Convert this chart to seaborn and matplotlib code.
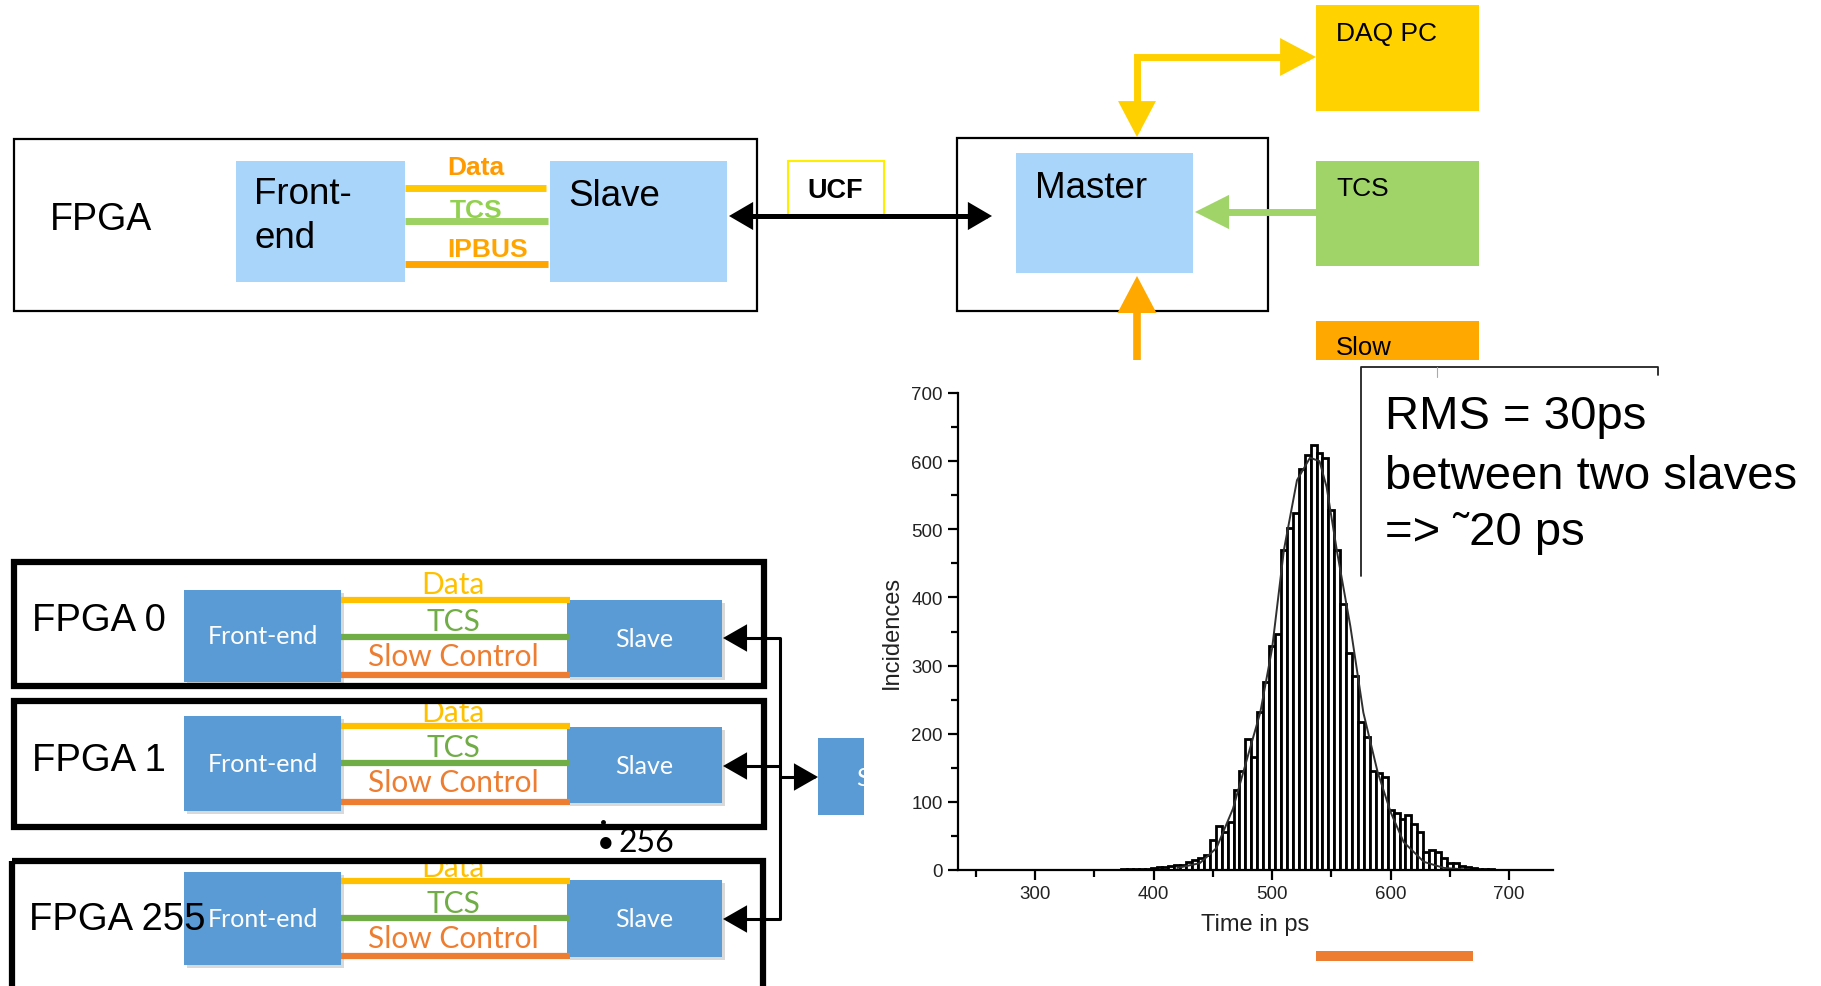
import numpy as np
import pandas as pd
import matplotlib
matplotlib.use('Agg')
import matplotlib.pyplot as plt
import seaborn as sns
from matplotlib.patches import Rectangle, FancyArrowPatch
from matplotlib.path import Path
from matplotlib.ticker import MultipleLocator
from matplotlib import font_manager

# histogram of time differences (5 ps bins)
time_ps = [375, 380, 385, 390, 395, 400, 405, 410, 415, 420, 425, 430, 435, 440, 445,
           450, 455, 460, 465, 470, 475, 480, 485, 490, 495, 500, 505, 510, 515, 520,
           525, 530, 535, 540, 545, 550, 555, 560, 565, 570, 575, 580, 585, 590, 595,
           600, 605, 610, 615, 620, 625, 630, 635, 640, 645, 650, 655, 660, 665, 670,
           675, 680, 685]
incidences = [2, 1, 2, 2, 2, 3, 4, 5, 6, 7, 8, 12, 14, 18, 22,
              44, 65, 56, 71, 117, 146, 192, 166, 232, 276, 329, 346, 469, 502, 524,
              589, 609, 623, 612, 605, 529, 469, 390, 319, 284, 217, 195, 146, 142, 136,
              88, 83, 75, 80, 68, 56, 27, 29, 27, 18, 11, 11, 6, 4, 3,
              2, 2, 2]
# fitted curve, points
fit_time = [420, 439, 453, 467, 480, 490, 500, 510, 521, 532, 540, 546, 555, 566,
            577, 589, 600, 611, 628, 645, 670]
fit_counts = [3, 10, 32, 90, 170, 231, 325, 470, 572, 605, 600, 562, 465, 358,
              231, 144, 85, 41, 12, 3, 0]

y_ticks = [0, 100, 200, 300, 400, 500, 600, 700]
x_ticks = [300, 400, 500, 600, 700]

fpga_names = ["FPGA 0", "FPGA 1", "FPGA 255"]

sns.set_style('ticks')
plt.rcParams['font.family'] = ['Liberation Sans', 'DejaVu Sans']
plt.rcParams['text.color'] = 'black'
plt.rcParams['axes.labelcolor'] = '#222222'

names = {f.name for f in font_manager.fontManager.ttflist}
narrow = 'Liberation Sans Narrow' in names
fpga_font = ['Liberation Sans Narrow', 'Liberation Sans'] if narrow else ['Liberation Sans']
fpga_size = 32 if narrow else 27.5
calibri = ['Lato', 'DejaVu Sans']

fig = plt.figure(figsize=(18.21, 9.87), dpi=100)
bg = fig.add_axes([0, 0, 1, 1])
bg.set_xlim(0, 1821)
bg.set_ylim(987, 0)
bg.axis('off')


def box(x0, y0, x1, y1, fc='none', ec='none', lw=0, z=2):
    r = Rectangle((x0, y0), x1 - x0, y1 - y0, facecolor=fc, edgecolor=ec,
                  linewidth=lw, zorder=z)
    bg.add_patch(r)
    return r


def arrow(pts, color, lw, hl, hw, style='-|>', z=4):
    a = FancyArrowPatch(path=Path(pts), arrowstyle=f'{style},head_length={hl},head_width={hw}',
                        mutation_scale=1, color=color, linewidth=lw, zorder=z,
                        joinstyle='miter', capstyle='butt')
    bg.add_patch(a)


def hline(x0, x1, y, color, lw=4.5, z=3):
    bg.plot([x0, x1], [y, y], color=color, lw=lw, solid_capstyle='butt', zorder=z)


# ---- top left: FPGA with front-end and slave
box(14, 140, 757, 312, ec='black', lw=1.6)
bg.text(50, 220, "FPGA", fontsize=27, va='center', ha='left')
top_blue = '#a9d5fb'
box(236, 162, 405, 283, fc=top_blue)
box(550, 162, 727, 283, fc=top_blue)
bg.text(254, 195, "Front-", fontsize=26.5, va='center')
bg.text(254, 238, "end", fontsize=26.5, va='center')
bg.text(568, 196, "Slave", fontsize=26.5, va='center')
hline(405, 546, 189, '#ffc800', lw=5)
hline(405, 548, 222, '#9dd161', lw=5)
hline(405, 548, 265, '#ffa500', lw=5)
bg.text(476, 168, "Data", color='#ff9a00', fontsize=19, weight='bold', ha='center', va='center', zorder=5)
bg.text(476, 211, "TCS", color='#92d050', fontsize=19, weight='bold', ha='center', va='center', zorder=5)
bg.text(488, 250, "IPBUS", color='#ffa500', fontsize=19, weight='bold', ha='center', va='center', zorder=5)

# UCF link
box(788, 162, 884, 216, ec='#ffee00', lw=1.5, z=3)
bg.text(835, 191, "UCF", fontsize=19.5, weight='bold', ha='center', va='center')
arrow([(729, 217), (992, 217)], 'black', 3.6, 12, 7, style='<|-|>')

# ---- top right: master, DAQ PC, TCS, slow control
box(957, 139, 1268, 312, ec='black', lw=1.6)
box(1016, 154, 1193, 274, fc=top_blue)
bg.text(1035, 188, "Master", fontsize=26.5, va='center')
box(1316, 6, 1479, 112, fc='#ffd200')
bg.text(1336, 34, "DAQ PC", fontsize=19, va='center')
box(1316, 162, 1479, 267, fc='#a0d468')
bg.text(1336, 189, "TCS", fontsize=19, va='center')
box(1316, 322, 1479, 361, fc='#ffa900')
bg.text(1336, 348, "Slow", fontsize=18.5, va='center')
arrow([(1316, 58), (1137, 58), (1137, 138)], '#ffd000', 5, 18, 9.5, style='<|-|>')
arrow([(1316, 213), (1195, 213)], '#a0d468', 5, 16.5, 8.3)
arrow([(1137, 361), (1137, 277)], '#ffa800', 5.5, 18, 9.5)

# ---- bottom left: 256 FPGAs
dark_blue = '#5b9bd5'
fpga_boxes = [(14, 563, 764, 687), (14, 702, 764, 828), (12, 862, 763, 1000)]
fe_boxes = [(184, 591, 341, 683), (184, 717, 341, 812), (184, 873, 341, 966)]
sl_boxes = [(567, 601, 722, 678), (567, 728, 722, 804), (567, 881, 722, 958)]
line_y = [(601, 638, 676), (727, 764, 803), (882, 919, 957)]
label_y = [(585, 622, 657), (713, 748, 783), (868, 904, 939)]
name_pos = [(32, 621), (32, 761), (29, 920)]
for i in range(3):
    x0, y0, x1, y1 = fpga_boxes[i]
    clip = box(x0, y0, x1, y1, ec='black', lw=4.5, z=6)
    box(fe_boxes[i][0] + 3, fe_boxes[i][1] + 3, fe_boxes[i][2] + 3, fe_boxes[i][3] + 3, fc='#d9d9d9', z=1)
    box(*fe_boxes[i], fc=dark_blue)
    box(sl_boxes[i][0] + 3, sl_boxes[i][1] + 3, sl_boxes[i][2] + 3, sl_boxes[i][3] + 3, fc='#d9d9d9', z=1)
    box(*sl_boxes[i], fc=dark_blue)
    hline(341, 570, line_y[i][0], '#ffc000', lw=4.5)
    hline(341, 570, line_y[i][1], '#70ad47', lw=4.5)
    hline(341, 570, line_y[i][2], '#ed7d31', lw=4.5)
    for txt, yy, col in zip(["Data", "TCS", "Slow Control"], label_y[i],
                            ['#ffc000', '#70ad47', '#ed7d31']):
        t = bg.text(453, yy, txt, color=col, fontsize=21.5, family=calibri,
                    ha='center', va='center', zorder=5, clip_on=True)
        t.set_clip_path(clip)
    bg.text((fe_boxes[i][0] + fe_boxes[i][2]) / 2, (fe_boxes[i][1] + fe_boxes[i][3]) / 2,
            "Front-end", color='white', fontsize=18, family=calibri, ha='center', va='center', zorder=5)
    bg.text((sl_boxes[i][0] + sl_boxes[i][2]) / 2, (sl_boxes[i][1] + sl_boxes[i][3]) / 2,
            "Slave", color='white', fontsize=18, family=calibri, ha='center', va='center', zorder=5)
    bg.text(name_pos[i][0], name_pos[i][1], fpga_names[i], fontsize=fpga_size,
            family=fpga_font, va='center', ha='left', zorder=7)

bg.plot([780, 780], [639, 920], color='black', lw=2.2, zorder=4)
for yy in [639, 767, 920]:
    arrow([(780, yy), (723, yy)], 'black', 2.2, 14, 8)
arrow([(780, 778), (818, 778)], 'black', 2.2, 14, 8)
box(818, 739, 864, 816, fc=dark_blue)
bg.text(856, 778, "S", color='white', fontsize=18, family=calibri, va='center', zorder=5)
box(864, 700, 900, 830, fc='white', z=6)
bg.text(597, 843, "\u2022", fontsize=22, va='center', ha='left', family=calibri)
bg.text(618, 843, "256", fontsize=23, va='center', ha='left', family=calibri)
bg.plot([603, 603], [823, 862], ls='none', marker='o', ms=2.5, color='black')

# ---- histogram
ax = fig.add_axes([958 / 1821, (987 - 871) / 987, (1553 - 958) / 1821, (871 - 394) / 987])
ax.set_facecolor('none')
edges = [t - 2.5 for t in time_ps] + [time_ps[-1] + 2.5]
sns.histplot(x=time_ps, weights=incidences, bins=edges, ax=ax, color='white',
             edgecolor='black', linewidth=2.0, alpha=1)
sns.lineplot(x=fit_time, y=fit_counts, ax=ax, color='#303030', linewidth=1.4)
ax.set_xlim(235, 737)
ax.set_ylim(0, 700)
ax.set_xticks(x_ticks)
ax.set_yticks(y_ticks)
ax.xaxis.set_minor_locator(MultipleLocator(50))
ax.yaxis.set_minor_locator(MultipleLocator(50))
ax.tick_params(which='major', length=7, width=1.6, direction='out', labelsize=13.5,
               labelcolor='#222222', color='black', pad=4)
ax.tick_params(which='minor', length=5, width=1.6, direction='out', color='black')
for s in ['left', 'bottom']:
    ax.spines[s].set_linewidth(1.6)
    ax.spines[s].set_color('black')
sns.despine(ax=ax)
ax.set_xlabel("Time in ps", fontsize=17, labelpad=8)
ax.set_ylabel("Incidences", fontsize=17, labelpad=6)

# legend frame remains and note
bg.plot([1361, 1361, 1658, 1658], [577, 368, 368, 376], color='#222222', lw=1.3, zorder=3)
bg.plot([1437, 1437], [368, 378], color='#aaaaaa', lw=0.8, zorder=3)
bg.text(1385, 417, "RMS = 30ps", fontsize=34, va='center', zorder=5)
bg.text(1385, 477, "between two slaves", fontsize=34, va='center', zorder=5)
bg.text(1385, 533, "=> \u02dc20 ps", fontsize=34, va='center', zorder=5)

# orange bar at the bottom
box(1316, 952, 1473, 962, fc='#ed7d31')

fig.savefig('out.png', dpi=100)
